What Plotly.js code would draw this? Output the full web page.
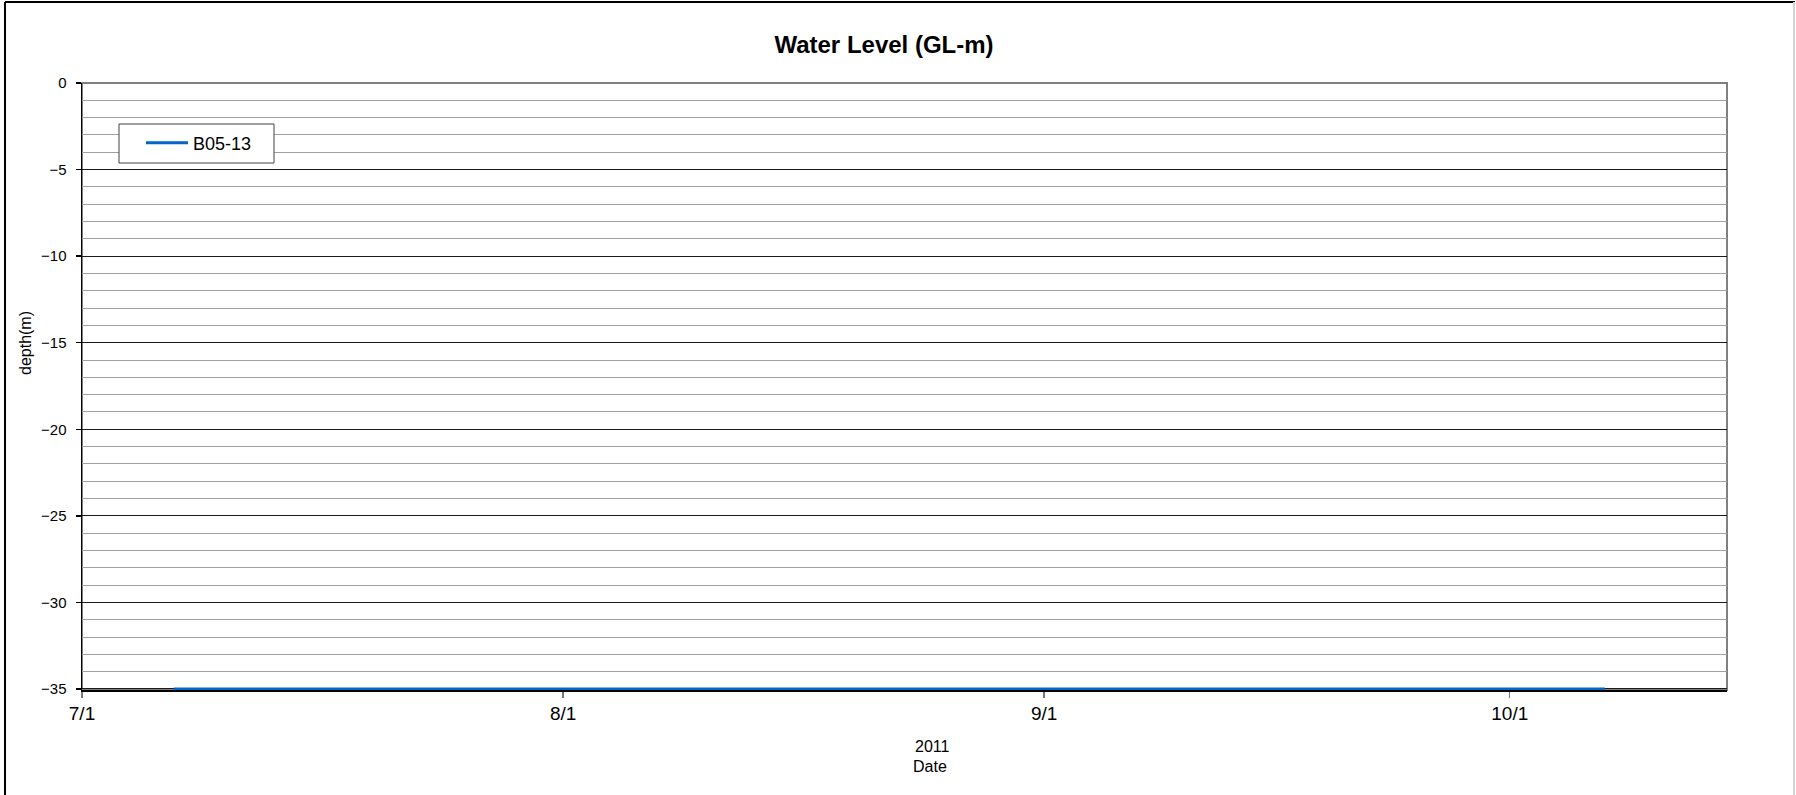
<!DOCTYPE html>
<html>
<head>
<meta charset="utf-8">
<script src="https://cdn.plot.ly/plotly-3.0.1.min.js"></script>
<style>
  html, body { margin: 0; padding: 0; background: #ffffff; }
  #chart { width: 1796px; height: 795px; }
</style>
</head>
<body>
<div id="chart"></div>
<script>
// ---- data ----
const seriesName = 'B05-13';
const dates = ['2011-07-06 22:00', '2011-10-07 03:00'];
const depth = [-35, -35];
const xTickVals = ['2011-07-01', '2011-08-01', '2011-09-01', '2011-10-01'];
const xTickText = ['7/1', '8/1', '9/1', '10/1'];
const xRange = ['2011-07-01', '2011-10-15'];
const yRange = [-35.06, 0];
const yTickVals = [0, -5, -10, -15, -20, -25, -30, -35];

const FONT = '"Liberation Sans", Arial, sans-serif';

// plot area in pixels: x 82..1727, y 83..690
const L = 82, R = 1727, T = 83, B = 690;
const px = v => (v - L) / (R - L);
const py = v => (B - v) / (B - T);

const trace = {
  x: dates,
  y: depth,
  type: 'scatter',
  mode: 'lines',
  name: seriesName,
  line: { color: '#0066cc', width: 3 }
};

const layout = {
  width: 1796,
  height: 795,
  margin: { l: L, r: 1796 - R, t: T, b: 795 - B, pad: 0 },
  paper_bgcolor: '#ffffff',
  plot_bgcolor: '#ffffff',
  font: { family: FONT, color: '#000000', size: 15 },
  title: {
    text: '<b>Water Level (GL-m)</b>',
    font: { family: FONT, size: 24, color: '#000000' },
    xref: 'paper', x: px(884), xanchor: 'center',
    yref: 'container', y: 1 - 45 / 795, yanchor: 'middle'
  },
  showlegend: true,
  legend: {
    x: px(141), xanchor: 'left',
    y: py(143), yanchor: 'middle',
    bgcolor: 'rgba(0,0,0,0)',
    borderwidth: 0,
    font: { family: FONT, size: 18, color: '#000000' },
    itemwidth: 42
  },
  xaxis: {
    type: 'date',
    range: xRange,
    tickmode: 'array',
    tickvals: xTickVals,
    ticktext: xTickText,
    ticks: 'outside',
    ticklen: 6,
    tickwidth: 1.5,
    tickcolor: '#777777',
    tickfont: { family: FONT, size: 19, color: '#000000' },
    showgrid: false,
    zeroline: false,
    showline: true,
    linecolor: '#000000',
    linewidth: 1.5,
    layer: 'below traces'
  },
  yaxis: {
    range: yRange,
    tickmode: 'array',
    tickvals: yTickVals,
    ticks: 'outside',
    ticklen: 5,
    tickwidth: 1.5,
    tickcolor: '#000000',
    tickfont: { family: FONT, size: 15, color: '#000000' },
    ticklabelstandoff: 6,
    showgrid: true,
    gridcolor: '#1a1a1a',
    gridwidth: 1,
    minor: { dtick: 1, tick0: 0, showgrid: true, gridcolor: '#a0a0a0', gridwidth: 1, ticks: '' },
    zeroline: false,
    showline: true,
    linecolor: '#000000',
    linewidth: 1.5,
    layer: 'below traces'
  },
  shapes: [
    // grey plot border (top/right)
    { type: 'rect', xref: 'paper', yref: 'paper', x0: 0, x1: 1, y0: 0, y1: 1,
      line: { color: '#808080', width: 2 }, layer: 'between' },
    // legend box
    { type: 'rect', xref: 'paper', yref: 'paper', x0: px(119), x1: px(274), y0: py(163), y1: py(124),
      line: { color: '#404040', width: 1 }, fillcolor: '#ffffff', layer: 'above' },
    // outer frame
    { type: 'line', xref: 'paper', yref: 'paper', x0: px(5), x1: px(5), y0: py(2), y1: py(800),
      line: { color: '#000000', width: 2 } },
    { type: 'line', xref: 'paper', yref: 'paper', x0: px(5), x1: px(1795), y0: py(2), y1: py(2),
      line: { color: '#000000', width: 2 } },
    { type: 'line', xref: 'paper', yref: 'paper', x0: px(1794), x1: px(1794), y0: py(2), y1: py(800),
      line: { color: '#d4d4d4', width: 2 } }
  ],
  annotations: [
    { text: 'depth(m)', xref: 'paper', yref: 'paper', x: px(25), y: py(343),
      xanchor: 'center', yanchor: 'middle', textangle: -90, showarrow: false,
      font: { family: FONT, size: 16, color: '#000000' } },
    { text: '2011', xref: 'paper', yref: 'paper', x: px(932), y: py(746),
      xanchor: 'center', yanchor: 'middle', showarrow: false,
      font: { family: FONT, size: 16, color: '#000000' } },
    { text: 'Date', xref: 'paper', yref: 'paper', x: px(930), y: py(766),
      xanchor: 'center', yanchor: 'middle', showarrow: false,
      font: { family: FONT, size: 16, color: '#000000' } }
  ]
};

Plotly.newPlot('chart', [trace], layout, { displayModeBar: false, staticPlot: true });
</script>
</body>
</html>
